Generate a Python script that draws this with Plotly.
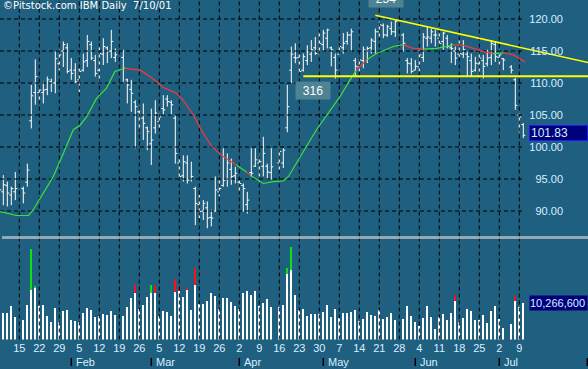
import plotly.graph_objects as go

# ---------------- data (x = weekday index, 0 = Mon 1 Jan 2001) ----------------
bar_idx = [5, 6, 7, 8, 9, 11, 12, 13, 14, 15, 16, 17, 18, 19, 20, 21, 22, 23, 24, 25,
           26, 27, 28, 29, 30, 31, 32, 33, 34, 36, 37, 38, 39, 40, 41, 42, 43, 44, 45, 46,
           47, 48, 49, 50, 51, 52, 53, 54, 55, 56, 57, 58, 59, 60, 61, 62, 63, 64, 65, 66,
           67, 68, 69, 70, 71, 72, 73, 75, 76, 77, 78, 79, 80, 81, 82, 83, 84, 85, 86, 87,
           88, 89, 90, 91, 92, 93, 94, 95, 96, 97, 98, 99, 100, 101, 102, 103, 104, 106, 107, 108,
           109, 110, 111, 112, 113, 114, 115, 116, 117, 118, 119, 120, 121, 122, 123, 124, 125, 126, 127, 128,
           129, 130, 131, 133, 134, 135, 136]
opens = [94.5, 93.0, 94.0, 92.5, 93.0, 93.5, 94.5, 104.1, 108.5, 108.5, 108.5, 109.0, 110.2, 110.0, 113.0, 115.0, 115.5, 112.0, 112.0, 110.5,
         112.0, 113.5, 116.0, 113.5, 112.0, 114.5, 115.5, 115.0, 114.0, 114.0, 110.5, 109.0, 107.0, 105.5, 104.5, 103.0, 100.5, 103.0, 104.0, 106.0,
         107.5, 107.0, 104.5, 97.5, 95.5, 97.5, 95.0, 93.5, 91.0, 90.0, 90.5, 89.0, 90.0, 93.0, 94.0, 95.0, 96.5, 95.5, 94.5, 94.0,
         91.0, 96.0, 97.0, 97.5, 97.0, 97.0, 96.0, 97.5, 97.5, 103.0, 112.0, 114.0, 114.0, 112.0, 113.5, 114.5, 115.5, 115.0, 116.0, 117.0,
         115.5, 114.0, 114.5, 115.5, 116.5, 117.5, 113.5, 112.5, 113.5, 115.0, 115.5, 116.5, 118.0, 119.0, 117.5, 118.5, 118.0, 117.5, 113.5, 113.0,
         112.0, 112.5, 114.0, 117.0, 117.0, 117.5, 117.0, 116.5, 117.0, 115.5, 115.0, 114.5, 114.5, 114.5, 113.5, 112.0, 113.0, 113.5, 113.0, 114.0,
         116.0, 114.0, 113.8, 112.5, 110.5, 105.0, 103.5]
highs = [95.4, 95.6, 94.6, 93.8, 96.1, 93.8, 97.4, 109.7, 113.7, 109.4, 110.2, 111.0, 110.7, 114.9, 115.2, 116.5, 116.2, 113.9, 113.1, 112.3,
         114.6, 117.5, 116.5, 114.4, 115.7, 117.0, 115.7, 118.3, 115.4, 115.2, 110.7, 110.5, 107.3, 106.3, 106.8, 103.2, 106.0, 107.3, 105.3, 108.1,
         108.1, 107.3, 105.0, 98.2, 98.7, 98.7, 97.7, 93.8, 92.5, 91.7, 91.5, 90.2, 95.4, 95.4, 99.8, 99.0, 98.2, 96.9, 94.8, 94.3,
         93.0, 99.8, 99.8, 98.7, 101.6, 97.4, 99.8, 99.8, 99.8, 109.7, 115.7, 116.2, 114.6, 114.6, 115.9, 116.7, 117.2, 118.0, 118.3, 118.5,
         115.7, 114.6, 115.9, 117.8, 118.0, 118.5, 113.9, 113.9, 115.7, 115.7, 117.0, 118.5, 119.6, 119.3, 119.1, 119.6, 119.8, 117.8, 113.9, 113.9,
         113.6, 115.2, 117.8, 118.8, 118.5, 118.3, 118.0, 118.0, 117.5, 116.2, 115.7, 116.7, 116.7, 114.9, 114.6, 114.1, 114.9, 114.4, 115.2, 116.7,
         116.5, 115.2, 113.9, 112.8, 110.8, 105.3, 103.75]
lows = [92.3, 90.9, 90.7, 90.9, 91.7, 91.2, 93.8, 102.9, 106.6, 107.1, 106.8, 108.1, 108.6, 108.4, 112.0, 112.5, 111.5, 110.5, 110.0, 108.6,
        111.8, 112.5, 113.6, 111.0, 110.0, 112.8, 113.1, 113.9, 113.3, 110.2, 106.8, 105.5, 99.8, 102.7, 101.1, 99.5, 97.2, 102.1, 102.9, 105.0,
        106.3, 105.0, 97.4, 94.9, 94.6, 94.3, 94.6, 87.8, 88.9, 88.6, 87.3, 87.6, 89.9, 92.3, 93.8, 93.8, 94.1, 94.3, 93.0, 89.9,
        89.6, 95.4, 96.9, 94.6, 95.4, 94.9, 94.9, 96.4, 96.7, 102.3, 110.0, 113.1, 111.5, 111.8, 112.8, 113.3, 114.4, 114.4, 114.9, 115.4,
        112.6, 110.7, 114.4, 114.6, 116.0, 114.9, 111.0, 111.8, 112.3, 113.1, 114.6, 114.6, 117.0, 117.0, 117.2, 117.5, 117.2, 114.9, 111.5, 111.5,
        112.0, 111.8, 113.3, 115.7, 116.2, 115.7, 115.7, 115.2, 115.4, 113.1, 112.8, 114.1, 113.9, 111.0, 111.0, 111.8, 111.0, 110.7, 112.6, 112.8,
        113.3, 112.3, 112.0, 111.5, 105.8, 102.3, 101.4]
closes = [93.3, 94.1, 92.8, 93.5, 93.5, 92.8, 96.4, 108.0, 111.0, 108.9, 108.9, 110.5, 110.0, 113.8, 114.4, 116.0, 111.8, 111.5, 110.2, 111.8,
          113.3, 116.5, 113.9, 111.5, 114.6, 115.7, 114.9, 116.5, 114.4, 112.3, 109.7, 108.4, 106.3, 105.0, 103.7, 102.4, 101.1, 105.3, 104.7, 105.8,
          107.1, 106.6, 99.0, 95.4, 97.7, 94.8, 95.4, 91.2, 89.9, 91.2, 88.9, 88.9, 93.3, 93.5, 94.8, 97.5, 95.4, 95.9, 94.3, 93.5,
          91.7, 95.9, 98.0, 97.7, 99.0, 96.1, 96.9, 99.3, 99.5, 106.3, 114.5, 113.9, 111.8, 114.1, 114.9, 115.2, 114.6, 116.2, 117.8, 118.3,
          115.2, 112.0, 115.7, 116.2, 117.5, 118.0, 112.6, 113.6, 115.2, 115.4, 116.7, 118.0, 119.1, 117.5, 118.8, 118.0, 119.6, 116.2, 113.1, 111.8,
          112.6, 114.4, 117.2, 117.2, 118.0, 117.5, 116.2, 117.8, 115.7, 115.4, 113.9, 114.6, 115.2, 114.1, 111.8, 113.1, 113.9, 112.6, 113.9, 116.2,
          114.1, 114.4, 113.6, 112.0, 106.5, 104.7, 101.83]

# volume (millions): white body and total (coloured cap where total > body)
vol_idx = [6, 7, 8, 9, 11, 12, 13, 14, 15, 16, 17, 18, 19, 20, 21, 22, 23, 24, 25, 26,
           27, 28, 29, 30, 31, 32, 33, 34, 36, 37, 38, 39, 40, 41, 42, 43, 44, 45, 46, 47,
           48, 49, 50, 51, 52, 53, 54, 55, 56, 57, 58, 59, 60, 61, 62, 63, 64, 65, 66, 67,
           68, 69, 70, 71, 72, 73, 75, 76, 77, 78, 79, 80, 81, 82, 83, 84, 85, 86, 87, 88,
           89, 90, 91, 92, 93, 94, 95, 96, 97, 98, 99, 100, 101, 102, 103, 104, 106, 107, 108, 109,
           110, 111, 112, 113, 114, 115, 116, 117, 118, 119, 120, 121, 122, 123, 124, 125, 126, 127, 128, 129,
           130, 131, 133, 134, 135, 136]
vol_body = [7.5, 7.5, 9.3, 6.2, 5.4, 9.6, 13.8, 14.5, 9.3, 9.6, 6.5, 4.9, 8.8, 4.9, 8.0, 8.2, 5.4, 5.2, 4.9, 7.5,
            8.8, 8.2, 6.4, 6.6, 7.2, 6.9, 8.0, 6.9, 6.6, 9.1, 11.6, 13.1, 8.4, 9.6, 11.9, 13.1, 13.1, 6.5, 8.0, 7.7,
            6.5, 13.3, 13.6, 11.9, 14.0, 8.2, 15.2, 9.9, 9.9, 10.8, 13.1, 12.1, 8.5, 11.6, 11.5, 10.4, 9.3, 8.5, 13.1, 13.4,
            12.5, 13.4, 9.3, 10.2, 11.3, 9.1, 9.1, 9.6, 18.4, 19.4, 12.4, 8.2, 8.5, 6.5, 7.1, 7.1, 7.1, 7.7, 9.6, 6.3,
            8.5, 6.0, 7.4, 7.4, 7.7, 8.2, 5.1, 5.7, 7.7, 6.8, 6.5, 8.2, 5.7, 6.3, 7.4, 5.4, 5.7, 9.3, 6.5, 4.8,
            3.7, 6.0, 9.3, 6.3, 2.9, 6.3, 7.1, 5.4, 7.4, 10.7, 4.8, 6.0, 8.5, 7.9, 5.4, 5.4, 6.8, 4.6, 7.9, 9.3,
            5.7, 3.2, 4.2, 10.7, 9.0, 10.2666]
cap_idx = [13, 14, 39, 43, 44, 49, 50, 52, 54, 77, 78, 119, 134]
cap_total = [25.2, 15.0, 15.2, 15.2, 15.0, 16.8, 14.8, 14.4, 20.0, 20.0, 25.9, 12.3, 12.0]
cap_body = [13.8, 14.5, 13.1, 13.1, 13.1, 13.3, 13.6, 14.0, 15.2, 18.4, 19.4, 10.7, 10.7]
cap_colour = ["g", "g", "r", "g", "r", "r", "r", "r", "r", "g", "g", "r", "r"]

# moving average, with colour of each following segment
ma_idx = [5.2, 9.3, 12.3, 13.5, 16, 18.5, 21, 23.5, 25.2, 26.8, 29.3, 31.8, 33.9, 36.4, 40.2, 42.7, 46, 49.3, 51, 53.5,
          56, 58.1, 61, 64.3, 66.8, 67.7, 71, 73.5, 76, 77.3, 79.3, 81.2, 84.3, 87.7, 90.2, 92.3, 94.3, 96.8, 99.3, 103.5,
          106, 108.5, 111, 114.3, 116.8, 118.5, 121, 123.5, 126, 128.5, 131, 133.5, 136.4]
ma_val = [89.9, 89.3, 89.3, 90.2, 92.8, 95.4, 99.0, 102.7, 103.4, 104.7, 107.6, 109.2, 111.8, 112.3, 112.0, 111.0, 109.3, 108.4, 107.3, 105.0,
          102.1, 100.1, 98.5, 97.2, 96.1, 95.6, 94.3, 94.6, 94.7, 95.4, 97.4, 99.5, 102.7, 105.8, 107.9, 110.1, 112.0, 113.6, 114.6, 115.7,
          116.0, 115.4, 115.3, 115.4, 115.7, 116.0, 115.9, 115.4, 114.9, 114.6, 114.7, 114.4, 113.3]
ma_colour = ["g"] * 13 + ["r"] * 10 + ["g", "r"] + ["g"] * 11 + ["r"] + ["g"] * 3 + ["r"] * 2 + ["g"] * 3 + ["r"] * 4 + ["g"] + ["r"] * 3

support_x = [81, 152.2]
support_y = [111.05, 111.05]
trend_x = [99, 152.2]
trend_y = [120.6, 113.2]

price_ticks = [90, 95, 100, 105, 110, 115, 120]
week_idx = [5, 10, 15, 20, 25, 30, 35, 40, 45, 50, 55, 60, 65, 70, 75, 80, 85, 90, 95, 100,
            105, 110, 115, 120, 125, 130, 135, 140, 145, 150]
week_lab = ["8", "15", "22", "29", "5", "12", "19", "26", "5", "12", "19", "26", "2", "9", "16", "23", "30", "7", "14", "21",
            "28", "4", "11", "18", "25", "2", "9", "16", "23", "30"]
grid_weeks = [w for w in week_idx if 10 <= w <= 135]
month_idx = [0, 23, 43, 65, 86, 109, 130, 152]
month_lab = ["Jan 01", "Feb", "Mar", "Apr", "May", "Jun", "Jul", ""]

last_price = "101.83"
last_volume = "10,266,600"
count_labels = [(83.4, 108.8, "316")]

# ---------------- figure ----------------
W, H = 588, 369
BG = "#1f5f7f"
TXT = "#d8f0ff"
FONT = "Liberation Sans, Arial, sans-serif"

price_top_px = 0
price_bot_px = 236.5
vol_top_px = 240
vol_bot_px = 339.5
px_per_dollar = 6.4
y_at_120 = 19
p_top = 120 + (y_at_120 - price_top_px) / px_per_dollar
p_bot = 120 - (price_bot_px - y_at_120) / px_per_dollar
vol_per_px = 10.2666 / (vol_bot_px - 302.7)
vol_max = (vol_bot_px - vol_top_px) * vol_per_px
x_lo, x_hi = 5.175, 152.175
grid_x_end = x_lo + 524 / W * (x_hi - x_lo)

fig = go.Figure()

# dashed grid (drawn first, beneath the data)
grid_line = dict(color="#000000", width=1, dash="4px,3px")
gx, gy, vx, vy = [], [], [], []
for w in grid_weeks:
    gx += [w, w, None]
    gy += [p_bot, p_top, None]
    vx += [w, w, None]
    vy += [0, vol_max, None]
for p in price_ticks:
    gx += [x_lo, grid_x_end, None]
    gy += [p, p, None]
fig.add_trace(go.Scatter(x=gx, y=gy, mode="lines", line=grid_line, xaxis="x", yaxis="y",
                         showlegend=False, hoverinfo="skip"))
fig.add_trace(go.Scatter(x=vx, y=vy, mode="lines", line=grid_line, xaxis="x", yaxis="y2",
                         showlegend=False, hoverinfo="skip"))

fig.add_trace(go.Ohlc(x=bar_idx, open=opens, high=highs, low=lows, close=closes,
                      increasing_line_color="white", decreasing_line_color="white",
                      line_width=1, tickwidth=0.5, xaxis="x", yaxis="y", showlegend=False,
                      hoverinfo="skip"))

# moving average in coloured runs
runs = []
start = 0
for i in range(1, len(ma_idx)):
    if i == len(ma_idx) - 1 or ma_colour[i] != ma_colour[start]:
        runs.append((start, i, ma_colour[start]))
        start = i
for s, e, c in runs:
    fig.add_trace(go.Scatter(x=ma_idx[s:e + 1], y=ma_val[s:e + 1], mode="lines",
                             line=dict(color="#3ee03e" if c == "g" else "#ff3838", width=1.2),
                             xaxis="x", yaxis="y", showlegend=False, hoverinfo="skip"))

fig.add_trace(go.Scatter(x=support_x, y=support_y, mode="lines", line=dict(color="#ffff00", width=2),
                         xaxis="x", yaxis="y", showlegend=False, hoverinfo="skip"))
fig.add_trace(go.Scatter(x=trend_x, y=trend_y, mode="lines", line=dict(color="#ffff00", width=1.5),
                         xaxis="x", yaxis="y", showlegend=False, hoverinfo="skip"))

# volume
fig.add_trace(go.Bar(x=vol_idx, y=vol_body, marker=dict(color="white", line_width=0), width=0.3,
                     xaxis="x", yaxis="y2", showlegend=False, hoverinfo="skip"))
fig.add_trace(go.Bar(x=cap_idx, y=[t - b for t, b in zip(cap_total, cap_body)], base=cap_body,
                     marker=dict(color=["#10e010" if c == "g" else "#ff1010" for c in cap_colour], line_width=0),
                     width=0.5, xaxis="x", yaxis="y2", showlegend=False, hoverinfo="skip"))

shapes = []
for w in grid_weeks:
    shapes.append(dict(type="line", xref="x", yref="paper", x0=w, x1=w, y0=1 - vol_top_px / H,
                       y1=1 - price_bot_px / H, line=grid_line))
shapes.append(dict(type="line", xref="paper", yref="paper", x0=2 / W, x1=1, y0=1 - 237 / H, y1=1 - 237 / H,
                   line=dict(color="#f4f4f4", width=1)))
shapes.append(dict(type="line", xref="paper", yref="paper", x0=2 / W, x1=1, y0=1 - 238.3 / H, y1=1 - 238.3 / H,
                   line=dict(color="#b8b8b8", width=1)))
for m in month_idx:
    shapes.append(dict(type="line", xref="x", yref="paper", x0=m, x1=m, y0=1 - 366 / H, y1=1 - 358 / H,
                       line=dict(color="black", width=1.5)))

annotations = [dict(text="\u00a9Pitstock.com IBM Daily \u00a07/10/01", xref="paper", yref="paper", x=0, y=1,
                    xanchor="left", yanchor="top", xshift=1, yshift=2, showarrow=False,
                    font=dict(family="DejaVu Sans", size=10, color="white"))]
for m, lab in zip(month_idx, month_lab):
    if lab:
        annotations.append(dict(text=lab, xref="x", yref="paper", x=m, y=1 - 361.5 / H, xanchor="left",
                                yanchor="middle", xshift=3, showarrow=False,
                                font=dict(family=FONT, size=11, color=TXT)))
for cx, cy, t in count_labels:
    annotations.append(dict(text=t, xref="x", yref="y", x=cx, y=cy, showarrow=False, bgcolor="#4e8394",
                            width=32, height=15, font=dict(family=FONT, size=12, color="white")))
annotations.append(dict(text="254", xref="x", yref="paper", x=101.7, y=1, yanchor="middle", yshift=1.5,
                        showarrow=False, bgcolor="#4e8394", width=32, height=15,
                        font=dict(family=FONT, size=12, color="white")))
annotations.append(dict(text=last_price, xref="paper", yref="paper", x=1, y=1 - 132.5 / H, xanchor="right",
                        yanchor="middle", showarrow=False, bgcolor="#00007c", bordercolor="#1a1aff",
                        borderwidth=1, width=55, height=12, align="left",
                        font=dict(family=FONT, size=12, color=TXT)))
annotations.append(dict(text=last_volume, xref="paper", yref="paper", x=1, y=1 - 302.5 / H, xanchor="right",
                        yanchor="middle", showarrow=False, bgcolor="#00007c", width=57, height=14,
                        align="left", borderpad=0,
                        font=dict(family=FONT, size=11, color=TXT)))

fig.update_layout(
    width=W, height=H, margin=dict(l=0, r=0, t=0, b=0, autoexpand=False),
    paper_bgcolor=BG, plot_bgcolor="rgba(0,0,0,0)", showlegend=False, bargap=0,
    barmode="overlay",
    xaxis=dict(domain=[0, 1], range=[x_lo, x_hi], anchor="y2", showgrid=False, zeroline=False,
               showline=False, ticks="", tickvals=week_idx, ticktext=week_lab, tickangle=0,
               automargin=False,
               tickfont=dict(family=FONT, size=11, color=TXT), rangeslider=dict(visible=False),
               fixedrange=True),
    yaxis=dict(domain=[1 - price_bot_px / H, 1], range=[p_bot, p_top], side="right",
               ticklabelposition="inside", tickvals=price_ticks, automargin=False,
               ticktext=[f"{p:.2f}" for p in price_ticks], zeroline=False, showgrid=False,
               showline=False, ticks="", ticklabelstandoff=22,
               tickfont=dict(family=FONT, size=11, color=TXT)),
    yaxis2=dict(domain=[1 - vol_bot_px / H, 1 - vol_top_px / H], automargin=False,
                range=[0, vol_max], showticklabels=False,
                showgrid=False, zeroline=False, showline=False),
    shapes=shapes, annotations=annotations,
)

fig.write_html("out.html", config={"displayModeBar": False},
               post_script="document.body.style.margin='0';document.body.style.overflow='hidden';")
